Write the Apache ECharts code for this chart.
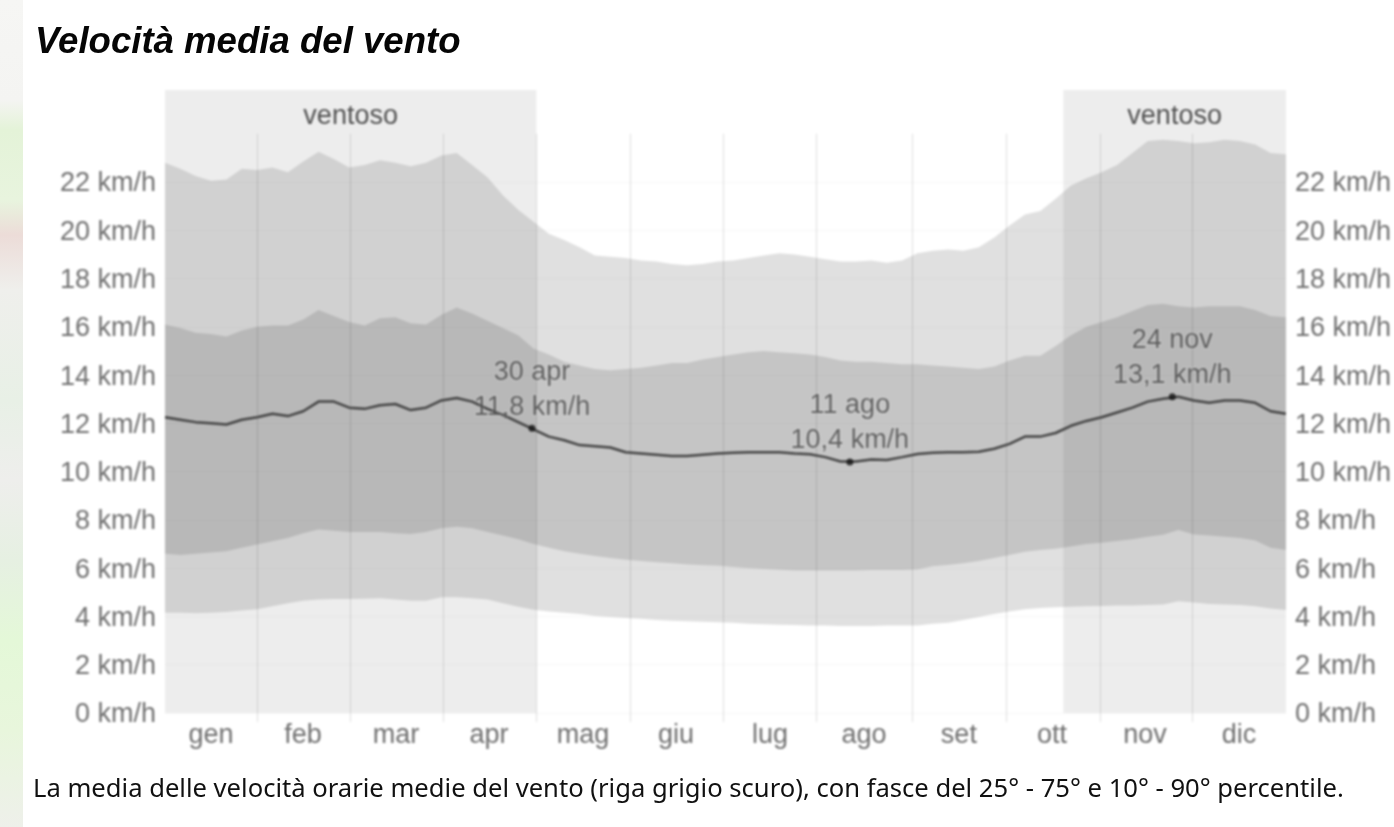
<!DOCTYPE html>
<html>
<head>
<meta charset="utf-8">
<title>Velocità media del vento</title>
<style>
  html, body { margin: 0; padding: 0; background: #fff; }
  #main, #testi { position: absolute; left: 0; top: 0; width: 1394px; height: 827px; }
  /* il grafico originale è una immagine un po' sfocata, i testi no */
  #main { filter: blur(0.8px); }
  /* resto della mappa a sinistra */
  #strip {
    position: absolute; left: 0; top: 0; width: 23px; height: 827px;
    background: linear-gradient(180deg, #f6f6f4 0, #f4f4f2 100px, #e4f3d8 130px, #e8f4de 200px, #ecdcd8 235px, #efefec 290px,
      #e8f0e6 400px, #eeeeec 480px, #e6f0e2 560px, #e4f8d8 640px, #e8f6dc 730px, #eef0ea 827px);
  }
</style>
<script src="https://cdn.jsdelivr.net/npm/echarts@6/dist/echarts.min.js"></script>
</head>
<body>
<div id="strip"></div>
<div id="main"></div>
<div id="testi"></div>
<script>
'use strict';
// giorni ogni 5, da 0 a 365
var days = [];
for (var d = 0; d <= 365; d += 5) days.push(d);

var p90 = [22.8, 22.55, 22.25, 22.05, 22.1, 22.55, 22.5, 22.6, 22.4, 22.85, 23.25, 22.95, 22.6, 22.7, 22.9, 22.8, 22.65, 22.8, 23.1, 23.2, 22.7, 22.2, 21.45, 20.85, 20.35, 19.85, 19.6, 19.3, 18.95, 18.9, 18.85, 18.75, 18.7, 18.6, 18.55, 18.6, 18.7, 18.75, 18.85, 18.95, 19.05, 19.0, 18.9, 18.8, 18.7, 18.7, 18.75, 18.65, 18.75, 19.05, 19.15, 19.2, 19.15, 19.3, 19.7, 20.2, 20.65, 20.8, 21.3, 21.85, 22.15, 22.4, 22.7, 23.2, 23.7, 23.75, 23.7, 23.6, 23.65, 23.75, 23.7, 23.55, 23.2, 23.15];
var p75 = [16.1, 15.95, 15.75, 15.7, 15.6, 15.85, 16.0, 16.05, 16.05, 16.3, 16.7, 16.45, 16.2, 16.05, 16.35, 16.4, 16.15, 16.1, 16.5, 16.8, 16.55, 16.25, 15.95, 15.65, 15.1, 14.85, 14.55, 14.4, 14.25, 14.2, 14.25, 14.3, 14.4, 14.5, 14.5, 14.65, 14.75, 14.85, 14.95, 15.0, 14.95, 14.9, 14.85, 14.75, 14.6, 14.55, 14.55, 14.5, 14.45, 14.45, 14.4, 14.35, 14.3, 14.25, 14.35, 14.6, 14.8, 14.8, 15.2, 15.65, 16.0, 16.2, 16.4, 16.65, 16.9, 16.95, 16.85, 16.8, 16.85, 16.85, 16.85, 16.7, 16.45, 16.4];
var media = [12.25, 12.15, 12.05, 12.0, 11.95, 12.15, 12.25, 12.4, 12.3, 12.5, 12.9, 12.9, 12.65, 12.6, 12.75, 12.8, 12.55, 12.65, 12.95, 13.05, 12.9, 12.6, 12.35, 12.05, 11.75, 11.45, 11.3, 11.1, 11.05, 11.0, 10.8, 10.75, 10.7, 10.65, 10.65, 10.7, 10.75, 10.78, 10.8, 10.8, 10.8, 10.75, 10.72, 10.6, 10.42, 10.42, 10.5, 10.48, 10.6, 10.73, 10.78, 10.8, 10.8, 10.82, 10.95, 11.15, 11.45, 11.45, 11.6, 11.9, 12.1, 12.25, 12.45, 12.65, 12.9, 13.02, 13.1, 12.95, 12.85, 12.95, 12.95, 12.85, 12.5, 12.4];
var p25 = [6.6, 6.55, 6.6, 6.65, 6.7, 6.85, 6.98, 7.12, 7.25, 7.45, 7.6, 7.55, 7.5, 7.5, 7.5, 7.45, 7.42, 7.5, 7.65, 7.72, 7.65, 7.5, 7.35, 7.2, 7.0, 6.85, 6.7, 6.6, 6.5, 6.42, 6.35, 6.3, 6.25, 6.2, 6.15, 6.12, 6.1, 6.05, 6.0, 5.97, 5.93, 5.9, 5.9, 5.9, 5.9, 5.9, 5.92, 5.92, 5.92, 5.95, 6.08, 6.13, 6.2, 6.3, 6.42, 6.55, 6.68, 6.75, 6.8, 6.9, 7.0, 7.05, 7.13, 7.2, 7.3, 7.38, 7.58, 7.4, 7.35, 7.3, 7.25, 7.15, 6.85, 6.75];
var p10 = [4.15, 4.15, 4.13, 4.15, 4.18, 4.25, 4.3, 4.42, 4.55, 4.65, 4.7, 4.72, 4.72, 4.73, 4.75, 4.7, 4.65, 4.65, 4.8, 4.8, 4.75, 4.7, 4.55, 4.4, 4.28, 4.2, 4.15, 4.1, 4.02, 3.98, 3.94, 3.9, 3.85, 3.82, 3.8, 3.78, 3.76, 3.74, 3.7, 3.68, 3.66, 3.65, 3.63, 3.62, 3.6, 3.6, 3.6, 3.62, 3.62, 3.62, 3.7, 3.74, 3.85, 3.98, 4.1, 4.2, 4.3, 4.35, 4.38, 4.4, 4.42, 4.43, 4.45, 4.45, 4.47, 4.5, 4.63, 4.58, 4.52, 4.5, 4.47, 4.42, 4.33, 4.27];

var mesi = ['gen', 'feb', 'mar', 'apr', 'mag', 'giu', 'lug', 'ago', 'set', 'ott', 'nov', 'dic'];
var inizioMese = [30, 60.3, 90.6, 120.9, 151.5, 181.8, 212, 243.3, 273.9, 304.5, 334.5];
var centroMese = [15, 44.9, 75.2, 105.5, 136.1, 166.4, 197, 227.6, 258.5, 288.8, 319.1, 349.7];
var tickVelocita = [0, 2, 4, 6, 8, 10, 12, 14, 16, 18, 20, 22];
var periodiVentosi = [[0, 120.9], [292.5, 365]];
var punti = [
  { value: [119.5, 11.8], giorno: '30 apr', testo: '11,8 km/h' },
  { value: [223, 10.4], giorno: '11 ago', testo: '10,4 km/h' },
  { value: [328, 13.1], giorno: '24 nov', testo: '13,1 km/h' }
];

var GRIGIO = '#707070';
var FONT = '"Liberation Sans", Arial, sans-serif';

function coppie(arr) {
  return arr.map(function (v, i) { return [days[i], v]; });
}

// una fascia è un solo poligono tra due percentili
function fascia(name, basso, alto, alpha) {
  return {
    name: name,
    type: 'custom',
    data: [0],
    silent: true,
    z: 2,
    renderItem: function (params, api) {
      var sopra = alto.map(function (v, i) { return api.coord([days[i], v]); });
      var sotto = basso.map(function (v, i) { return api.coord([days[i], v]); }).reverse();
      return {
        type: 'polygon',
        shape: { points: sopra.concat(sotto) },
        style: { fill: 'rgba(0,0,0,' + alpha + ')' }
      };
    }
  };
}

// righe della griglia: mesi in verticale, velocità in orizzontale
var righe = inizioMese.map(function (g) {
  return [{ coord: [g, 0], lineStyle: { color: 'rgba(0,0,0,0.13)', width: 1, type: 'solid' } }, { coord: [g, 24] }];
}).concat(tickVelocita.map(function (v) {
  return [{ coord: [0, v], lineStyle: { color: 'rgba(0,0,0,0.03)', width: 1, type: 'solid' } }, { coord: [365, v] }];
}));

var asseY = {
  type: 'value',
  min: 0,
  max: 25.81,
  interval: 2,
  splitLine: { show: false },
  axisLine: { show: false },
  axisTick: { show: false },
  axisLabel: {
    color: GRIGIO,
    fontFamily: FONT,
    fontSize: 27,
    margin: 9,
    // riga bassa allineata in alto: il testo scende di 2px rispetto al tick
    verticalAlign: 'top',
    lineHeight: 4,
    customValues: tickVelocita,
    formatter: '{value} km/h'
  }
};

var chart = echarts.init(document.getElementById('main'));
chart.setOption({
  animation: false,
  backgroundColor: 'transparent',
  grid: { left: 165, right: 108, top: 90, bottom: 114 },
  xAxis: {
    type: 'value',
    min: 0,
    max: 365,
    splitLine: { show: false },
    axisLine: { show: false },
    axisTick: { show: true, length: 9, customValues: inizioMese, lineStyle: { color: 'rgba(0,0,0,0.13)' } },
    axisLabel: {
      color: GRIGIO,
      fontFamily: FONT,
      fontSize: 27,
      margin: 9,
      customValues: centroMese,
      formatter: function (v) { return mesi[centroMese.indexOf(v)]; }
    }
  },
  yAxis: [
    Object.assign({}, asseY, { position: 'left' }),
    Object.assign({}, asseY, { position: 'right' })
  ],
  series: [
    fascia('p10-p90', p10, p90, 0.12),
    fascia('p25-p75', p25, p75, 0.12),
    {
      name: 'media',
      type: 'line',
      data: coppie(media),
      symbol: 'none',
      sampling: false,
      silent: true,
      z: 5,
      lineStyle: { color: '#444', width: 2.5 },
      markArea: {
        silent: true,
        itemStyle: { color: 'rgba(0,0,0,0.07)' },
        label: {
          position: 'insideTop',
          distance: 13,
          color: '#505050',
          fontFamily: FONT,
          fontSize: 27
        },
        data: periodiVentosi.map(function (p) {
          return [{ name: 'ventoso', coord: [p[0], 0] }, { coord: [p[1], 25.81] }];
        })
      },
      markLine: {
        silent: true,
        symbol: 'none',
        label: { show: false },
        data: righe
      }
    },
    {
      name: 'estremi',
      type: 'scatter',
      data: punti,
      symbolSize: 7,
      silent: true,
      z: 6,
      itemStyle: { color: '#111' },
      label: {
        show: true,
        position: 'top',
        distance: 0,
        color: '#444',
        fontFamily: FONT,
        fontSize: 27,
        lineHeight: 35,
        align: 'center',
        textBorderColor: 'rgba(255,255,255,0.25)',
        textBorderWidth: 2,
        formatter: function (p) { return p.data.giorno + '\n' + p.data.testo; }
      }
    }
  ]
});

// titolo e didascalia restano nitidi
var testi = echarts.init(document.getElementById('testi'));
testi.setOption({
  animation: false,
  backgroundColor: 'transparent',
  title: [{
    text: 'Velocità media del vento',
    left: 30,
    top: 19,
    textStyle: { fontFamily: FONT, fontSize: 36.6, fontStyle: 'italic', fontWeight: 'bold', color: '#050505' }
  }, {
    text: 'La media delle velocità orarie medie del vento (riga grigio scuro), con fasce del 25° - 75° e 10° - 90° percentile.',
    left: 28,
    top: 772,
    textStyle: { fontFamily: '"Noto Sans", sans-serif', fontSize: 25.6, fontWeight: 'normal', color: '#111' }
  }]
});
</script>
</body>
</html>
